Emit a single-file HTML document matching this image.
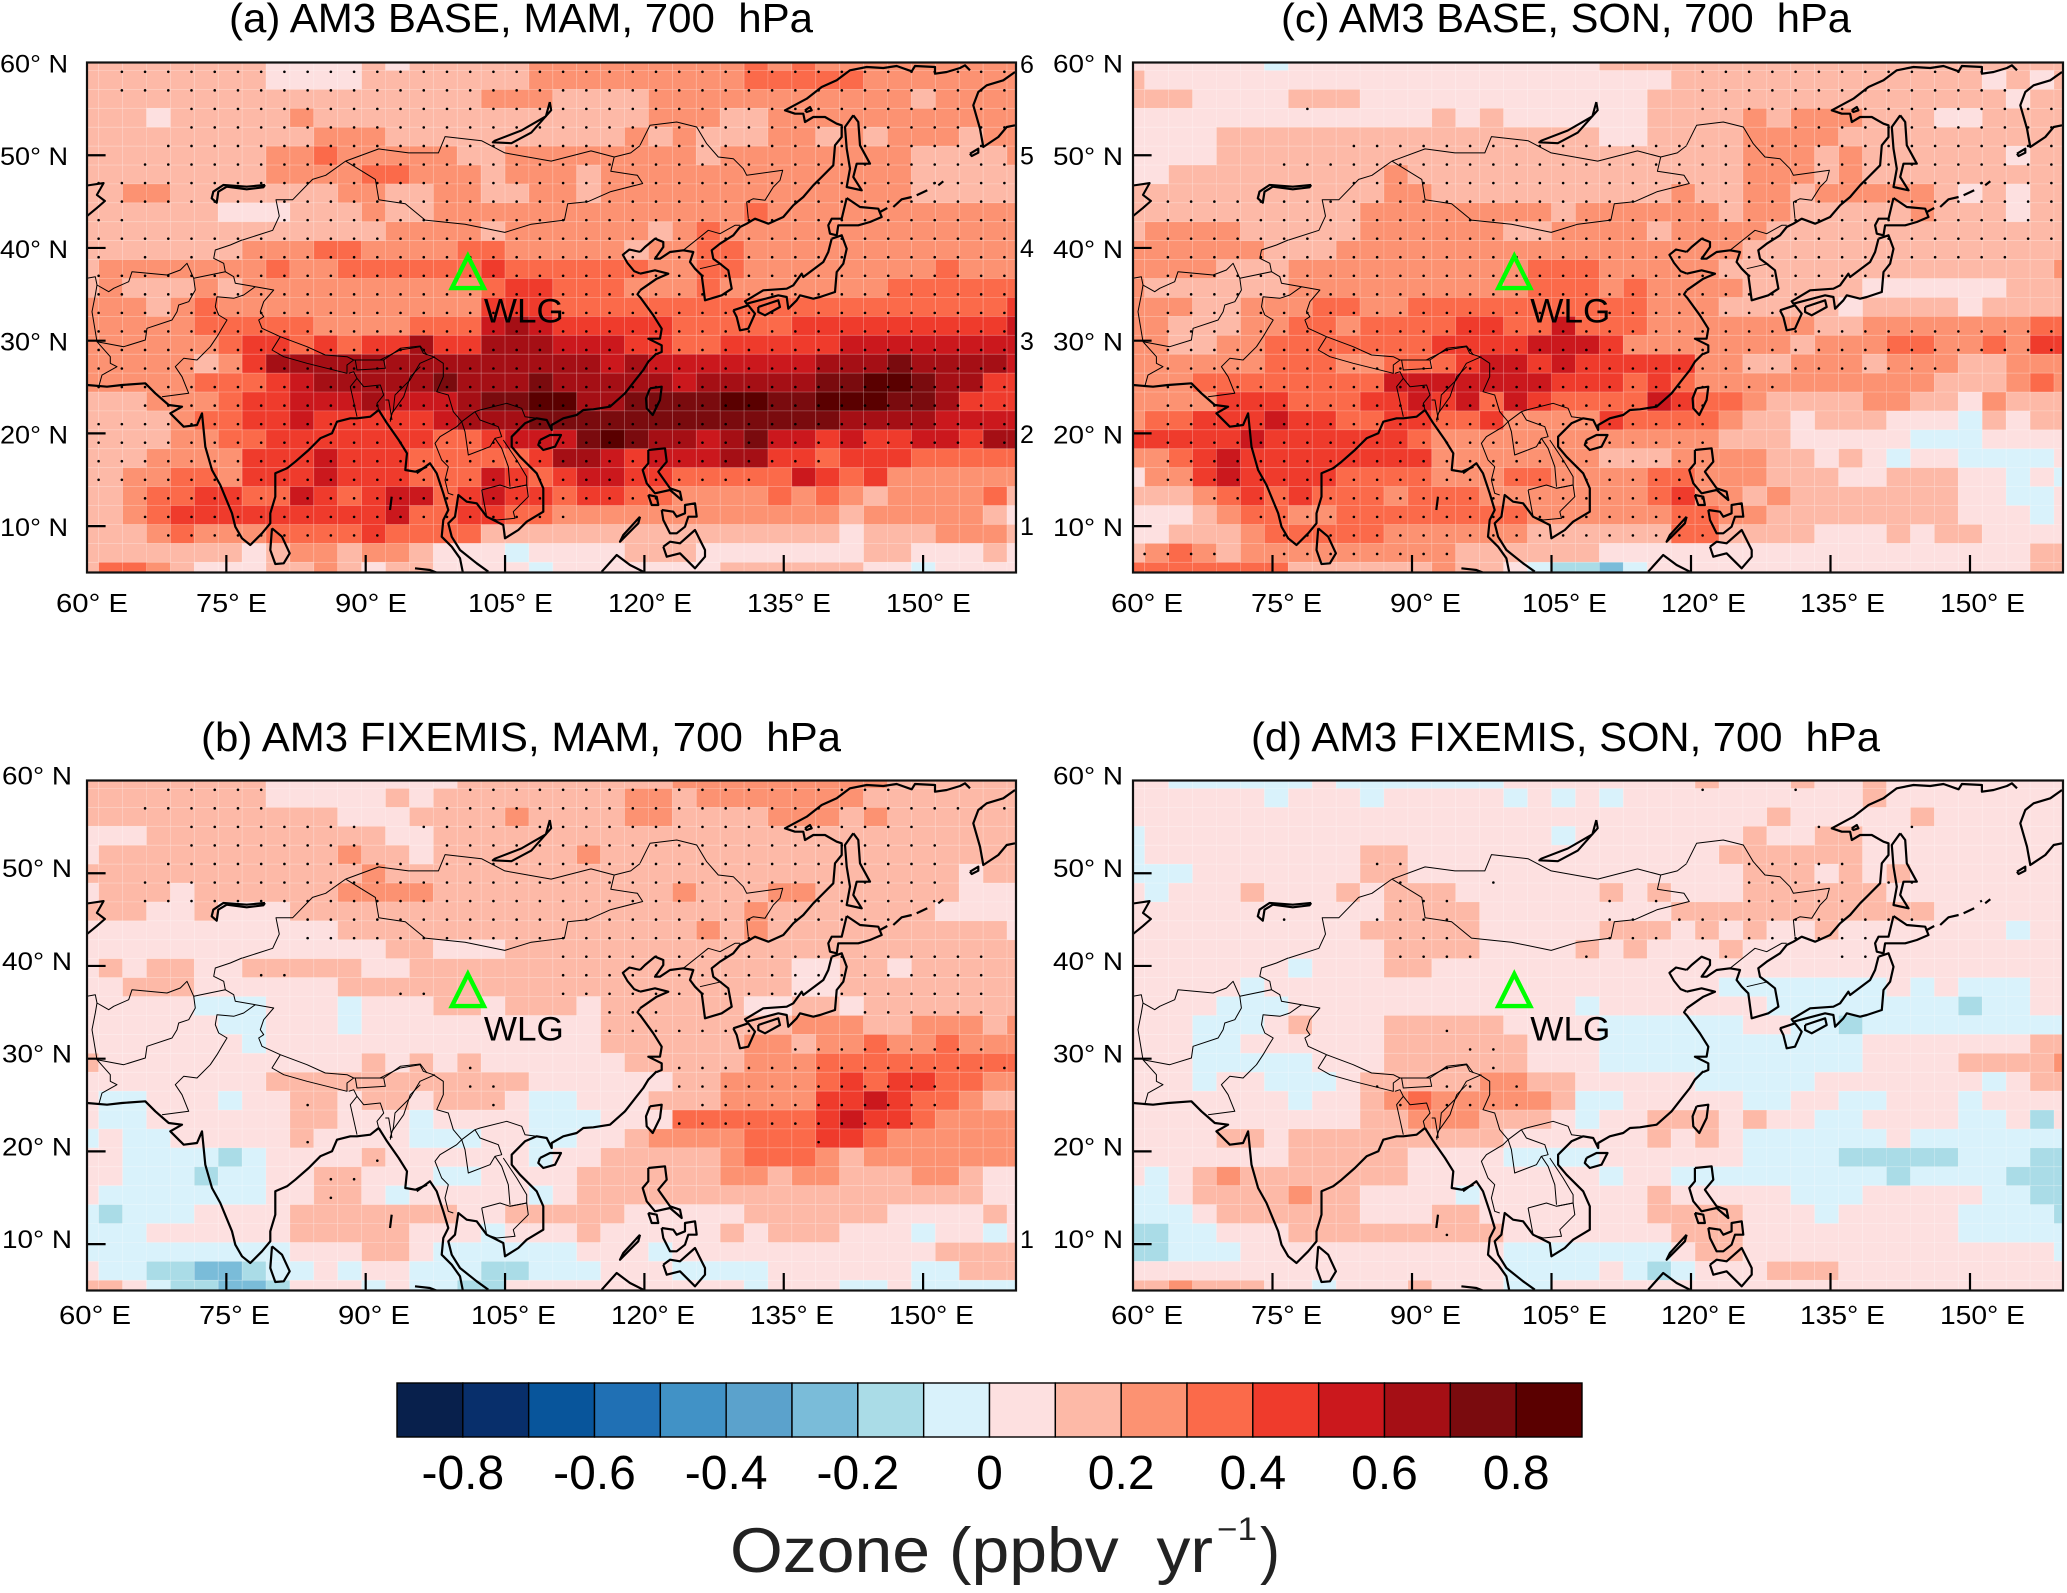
<!DOCTYPE html>
<html><head><meta charset="utf-8"><title>Ozone trends at 700 hPa</title>
<style>html,body{margin:0;padding:0;background:#fff}svg{display:block}text{font-family:"Liberation Sans",sans-serif;fill:#000;white-space:pre}</style>
</head><body>
<svg id="fig" xmlns="http://www.w3.org/2000/svg" width="2067" height="1593" viewBox="0 0 2067 1593"></svg>
<script>
// Trend values in tenths of ppbv/yr: n>0 is the bin (n-1)/10..n/10, n<0 is n/10..(n+1)/10.
const panelAValues=[
[2,2,2,2,2,2,2,2,1,1,1,1,2,1,2,2,2,2,2,3,3,3,3,3,3,3,3,3,4,3,4,3,3,3,3,3,3,3,3,3],
[2,2,2,2,2,2,2,2,1,1,1,1,2,2,2,2,2,2,2,3,3,3,3,3,3,3,3,3,4,4,4,4,4,3,3,3,3,3,3,3],
[2,2,2,2,2,2,2,2,2,2,2,2,2,2,2,2,2,3,3,3,2,2,2,2,3,3,3,3,3,3,3,3,3,3,3,2,3,3,3,3],
[2,2,2,1,2,2,2,2,2,3,2,2,2,2,2,2,2,2,2,2,2,2,2,2,3,3,3,2,2,3,3,3,3,3,3,3,3,3,3,3],
[2,2,2,2,2,2,2,2,2,2,3,3,3,2,2,2,2,2,2,2,2,2,2,3,2,3,2,2,2,3,3,2,3,2,3,3,3,2,3,3],
[2,2,2,2,2,2,2,2,3,3,4,3,3,3,3,3,2,2,3,3,3,3,3,3,3,3,2,3,3,3,3,3,3,3,3,2,2,2,2,3],
[2,2,2,2,2,2,2,2,3,3,3,3,4,4,3,3,3,2,3,3,3,2,3,3,3,3,3,3,3,3,3,3,3,3,3,2,2,2,2,2],
[2,2,3,3,2,2,2,2,2,2,2,3,3,2,2,3,3,2,2,3,3,2,3,3,3,3,3,3,3,3,3,3,3,3,3,2,2,2,2,2],
[2,2,2,2,2,2,1,1,1,2,2,2,3,2,2,3,3,3,3,3,3,3,3,3,3,3,3,3,4,3,3,3,3,3,3,3,3,3,3,3],
[2,2,2,2,2,2,2,2,2,2,2,2,2,3,3,3,3,2,3,3,3,3,3,3,2,3,4,3,3,3,3,3,3,3,3,3,3,3,3,3],
[2,2,2,2,2,2,2,3,3,3,4,4,3,3,3,3,4,4,3,3,3,3,3,2,3,3,4,4,3,3,3,3,3,3,3,3,3,3,3,3],
[2,3,3,3,3,3,3,3,4,3,3,4,4,4,4,4,4,5,4,4,4,4,4,4,3,3,4,4,3,3,3,3,3,3,3,3,4,3,3,3],
[2,3,2,2,2,3,2,3,3,3,3,3,3,3,3,3,3,4,5,5,4,4,4,3,3,3,4,3,3,3,3,3,3,3,4,4,4,4,4,4],
[3,3,3,2,3,4,3,3,3,3,3,3,3,3,3,3,3,5,5,5,4,4,4,4,4,4,4,4,4,4,4,4,4,4,4,4,4,4,4,5],
[3,3,3,3,3,4,4,4,4,4,3,3,3,3,4,4,4,6,7,6,5,5,5,5,5,4,4,4,4,4,5,5,5,5,5,5,5,5,5,6],
[3,3,3,3,3,3,4,5,5,4,5,4,5,5,7,5,5,7,7,7,6,6,6,5,5,4,4,5,5,5,5,5,6,6,6,6,6,6,6,6],
[3,3,3,3,3,2,3,5,7,7,7,7,7,7,7,7,7,7,7,7,7,7,6,7,6,6,6,6,6,6,6,7,7,7,8,7,7,7,7,6],
[3,3,3,3,3,4,4,4,5,6,7,7,7,7,7,8,7,7,7,8,7,7,7,7,7,6,7,7,7,7,7,8,8,9,9,8,7,7,5,5],
[2,2,2,3,3,3,4,5,5,6,6,6,7,6,6,6,7,8,8,9,9,7,7,8,8,8,8,9,9,8,8,9,9,9,8,8,7,5,5,5],
[2,2,2,2,3,4,4,5,5,6,5,5,5,5,5,6,7,7,7,8,8,8,8,8,8,8,8,8,8,8,8,8,7,7,7,7,6,6,6,6],
[2,2,2,2,3,3,4,4,5,5,5,5,5,5,5,4,4,5,6,6,6,8,9,8,7,7,6,7,8,6,6,5,6,5,5,6,6,5,7,7],
[2,2,2,3,3,3,3,5,5,5,6,5,5,5,4,4,4,4,4,5,7,7,6,5,6,6,6,7,7,5,5,4,5,5,5,4,4,4,4,4],
[2,2,3,3,4,4,3,5,5,5,6,5,5,5,4,4,4,6,5,4,5,6,6,5,5,4,4,4,4,4,6,5,4,5,3,3,3,3,3,3],
[2,2,3,4,4,5,5,4,4,6,5,4,5,6,6,4,5,6,5,5,4,5,5,4,4,3,3,3,3,4,3,4,3,2,3,3,3,3,4,2],
[2,2,3,4,5,5,5,5,5,5,5,5,5,6,4,4,5,5,4,4,3,3,3,3,3,3,3,3,3,3,3,3,2,3,3,3,3,3,2,1],
[2,2,2,3,4,3,3,3,4,4,4,4,5,4,4,4,4,2,2,2,2,2,2,2,2,2,2,2,2,2,2,2,1,2,2,2,3,3,3,2],
[2,2,2,2,2,2,2,1,2,3,3,2,3,3,2,1,1,1,-1,1,1,1,1,2,2,2,1,1,1,1,1,1,1,2,2,1,1,1,2,1],
[2,4,4,3,2,1,1,1,2,2,3,2,1,2,2,1,1,1,1,-1,1,1,1,1,1,1,1,2,2,2,2,2,2,1,1,-1,1,1,1,1]];
const panelBValues=[
[2,2,2,2,2,2,2,2,1,1,1,1,1,1,1,1,2,2,2,2,2,2,2,2,2,3,3,3,3,3,3,3,3,3,2,2,2,2,2,2],
[2,2,2,2,2,2,2,2,1,1,1,1,1,2,1,2,2,2,2,2,2,2,2,3,3,2,3,3,3,3,3,3,3,2,2,2,2,2,2,2],
[2,2,2,2,2,2,2,2,2,2,2,1,1,1,2,2,2,2,3,2,2,2,2,3,3,2,2,2,2,3,3,3,2,3,2,2,2,2,2,2],
[1,1,1,2,2,2,2,2,2,2,2,2,2,1,1,2,2,2,2,2,2,2,2,2,2,2,2,2,2,2,2,2,2,2,2,2,2,2,2,2],
[1,2,2,2,2,2,2,2,2,2,2,3,2,2,1,2,2,2,2,2,2,3,2,2,2,2,2,2,2,2,2,2,2,2,2,2,2,2,2,2],
[2,2,2,2,2,2,2,2,2,2,2,2,3,2,2,2,2,2,2,2,2,2,2,2,2,2,2,2,2,2,2,2,2,2,2,2,2,1,2,2],
[1,2,2,2,1,2,2,2,2,2,2,3,3,3,3,2,2,2,2,2,2,2,2,2,2,3,2,2,2,3,3,2,2,2,2,2,2,1,1,1],
[2,2,2,1,1,2,1,1,1,2,2,2,2,2,2,2,2,2,2,2,2,2,2,2,2,2,2,2,3,2,2,2,2,2,2,2,1,1,1,1],
[1,1,1,1,1,1,1,1,1,1,1,2,2,2,2,2,2,2,2,2,2,2,2,2,2,2,3,2,3,2,2,2,2,2,2,2,2,2,2,1],
[1,1,1,1,1,1,1,1,1,1,1,1,1,2,2,1,1,1,2,2,2,2,2,2,2,2,2,2,2,2,2,2,2,2,2,2,2,2,2,2],
[1,2,1,2,2,1,1,2,2,2,2,2,1,1,2,2,2,2,2,2,2,2,2,2,2,2,2,2,2,2,1,1,2,2,1,2,2,2,2,2],
[1,1,2,2,2,1,1,1,1,1,1,2,2,2,2,2,2,2,2,2,2,2,2,2,2,2,2,2,2,2,1,1,2,2,2,2,2,2,2,2],
[1,1,1,1,1,-1,-1,-1,1,1,1,-1,1,1,1,2,2,1,2,2,2,1,2,2,2,2,2,2,1,1,2,2,1,2,2,2,2,2,2,2],
[1,1,1,1,1,1,-1,-1,1,1,1,-1,1,1,1,1,1,1,1,1,1,1,2,2,2,2,2,2,2,2,3,3,3,2,2,3,3,3,2,3],
[1,1,1,1,1,1,1,-1,1,1,1,1,1,1,1,1,1,1,1,1,1,1,2,2,2,2,2,2,3,3,2,3,3,4,3,3,4,3,3,3],
[2,1,1,1,1,1,1,1,1,1,1,1,2,1,2,1,2,1,1,1,1,1,1,2,2,2,2,2,3,3,3,4,4,4,4,4,4,4,4,4],
[1,1,1,1,1,1,1,1,2,2,2,2,2,2,2,2,2,2,2,1,1,1,1,1,1,2,2,3,3,3,3,4,5,4,5,5,4,4,3,3],
[1,-1,-1,1,1,1,-1,1,1,2,2,1,2,2,1,2,2,2,1,-1,-1,1,1,1,2,2,2,3,3,3,3,5,5,6,5,4,4,3,2,2],
[1,-1,-1,1,1,1,1,1,1,2,2,1,1,1,-1,1,1,1,1,-1,-1,-1,1,1,1,4,4,4,4,4,4,5,6,5,5,4,3,3,3,3],
[-1,1,-1,-1,1,1,1,1,1,2,1,1,1,1,-1,-1,-1,1,1,-1,-1,1,1,2,3,3,3,3,4,4,4,5,5,4,3,3,3,3,3,3],
[1,1,-1,-1,-1,-1,-2,-1,1,1,1,1,2,1,1,1,1,1,1,-1,1,1,2,2,2,2,2,3,4,4,4,3,2,3,3,3,3,3,3,3],
[1,1,-1,-1,-1,-2,-1,-1,1,1,2,2,1,1,1,-1,-1,1,1,1,1,2,2,2,2,2,2,3,3,2,3,3,2,2,2,3,3,2,1,1],
[1,-1,-1,-1,-1,-1,-1,-1,1,1,2,2,1,-1,1,1,1,1,1,-1,1,2,2,2,2,2,2,2,2,2,2,2,2,2,2,2,2,2,1,1],
[-1,-2,-1,-1,-1,1,1,1,1,2,2,2,2,2,2,2,1,1,2,2,2,2,2,1,1,1,1,1,2,2,2,2,2,2,1,1,1,1,2,1],
[-1,-1,-1,1,1,1,1,1,1,2,2,2,2,2,1,1,1,-1,1,1,1,2,1,1,1,1,1,2,1,2,2,2,1,1,1,-1,1,1,-1,1],
[-1,-1,-1,-1,-1,-1,-1,-1,-1,1,1,1,2,2,1,-1,-1,-1,-1,-1,-1,1,1,1,-1,1,1,1,1,1,1,1,1,1,1,1,2,2,2,2],
[1,-1,-1,-2,-2,-3,-3,-2,-1,-1,1,-1,1,1,-1,-1,-1,-2,-2,-1,-1,-1,1,1,1,-1,-1,-1,-1,1,1,1,1,1,1,-1,-1,2,2,2],
[2,2,1,-1,-2,-2,-3,-3,-2,1,1,1,-1,1,-1,-1,-2,-2,1,1,1,1,1,1,1,1,1,1,-1,1,1,1,-1,-1,1,-1,-1,-1,-1,-1]];
const panelCValues=[
[1,1,1,1,1,1,-1,1,1,1,1,1,1,1,1,1,1,1,1,1,2,2,2,2,2,2,2,2,2,2,2,2,2,2,2,2,2,2,2,2],
[2,1,1,1,1,1,1,1,1,1,1,1,1,1,1,1,1,1,1,1,1,1,1,2,2,2,2,2,2,2,2,2,2,2,2,2,1,2,1,2],
[2,2,2,1,1,1,1,2,2,2,1,1,1,1,1,1,1,1,1,1,1,1,2,2,2,2,2,2,2,2,2,2,2,2,2,2,2,1,2,2],
[1,1,1,1,1,1,1,1,1,1,1,1,1,2,1,2,1,1,1,1,1,1,2,2,2,2,3,2,3,3,3,2,2,2,1,1,2,2,2,2],
[1,1,1,1,2,2,2,2,2,2,2,2,2,2,2,2,2,2,2,2,1,1,2,2,2,2,3,3,3,3,2,2,2,2,2,2,2,2,2,2],
[1,1,1,1,2,2,2,2,2,2,2,2,2,2,2,2,2,2,2,2,2,2,2,2,2,2,3,3,3,2,3,2,2,2,2,2,2,1,2,2],
[1,1,2,2,2,2,2,2,2,2,2,3,2,2,2,2,2,2,2,2,2,2,2,2,2,2,3,3,3,2,3,2,2,2,2,2,2,2,2,2],
[2,2,2,2,2,2,2,2,2,2,2,3,3,2,2,2,2,2,2,2,2,2,2,3,2,2,3,3,2,3,3,3,3,3,2,1,2,1,2,2],
[2,2,2,2,2,2,2,2,2,2,3,3,3,3,3,3,3,3,2,3,3,3,3,3,3,2,3,3,2,2,2,2,2,3,2,2,2,1,2,2],
[2,3,3,3,3,2,2,2,2,2,3,3,3,3,3,3,2,2,3,3,3,3,2,3,3,3,3,2,2,2,2,2,2,2,2,2,2,2,2,2],
[3,3,3,3,3,3,2,2,2,3,3,3,3,3,3,3,3,3,3,3,3,3,3,3,3,3,2,2,2,2,2,2,2,2,2,2,2,2,2,2],
[3,3,3,3,2,2,2,3,3,3,3,3,3,3,3,3,3,4,4,4,3,3,3,3,3,2,2,2,2,2,2,2,2,2,2,2,2,2,2,3],
[3,2,2,2,2,2,2,3,3,3,3,3,3,3,3,3,3,4,4,4,3,4,3,3,3,3,2,2,2,2,2,1,1,1,1,1,1,2,2,2],
[3,3,3,2,2,3,3,3,4,4,3,3,4,4,4,4,4,4,4,4,4,4,3,3,3,2,2,2,2,2,1,2,2,2,2,1,2,2,2,2],
[3,3,2,2,2,3,3,4,4,3,4,4,4,4,5,5,4,4,6,4,4,4,3,3,3,3,3,3,3,2,2,3,3,3,3,3,3,3,4,4],
[3,3,2,2,3,3,4,4,4,4,4,4,4,5,5,5,5,6,6,6,5,3,3,3,3,3,3,3,2,3,3,3,4,4,3,3,4,3,5,5],
[3,3,3,3,3,3,4,4,4,3,3,4,4,4,5,6,6,5,6,5,5,5,5,5,3,3,2,2,3,3,3,2,3,3,3,2,2,3,3,3],
[3,3,3,4,4,4,4,4,4,4,4,6,6,6,6,6,6,6,5,5,5,4,5,4,3,3,3,3,3,3,3,3,3,3,2,2,2,3,4,3],
[3,3,3,3,5,5,5,4,4,4,5,5,6,5,6,4,6,5,4,4,4,4,6,5,4,4,3,2,2,2,2,3,3,2,2,1,3,2,2,2],
[3,4,4,5,5,5,6,5,5,4,4,5,5,4,4,5,3,3,3,3,5,4,4,4,4,3,2,2,1,2,2,2,1,1,1,-1,2,1,2,2],
[5,5,5,5,5,6,5,5,5,5,5,5,4,3,3,3,3,3,3,3,3,3,3,3,3,2,2,2,1,1,1,1,1,-1,-1,-1,1,1,1,1],
[3,3,4,5,6,5,5,5,5,5,5,5,5,3,3,3,3,3,3,3,2,2,2,3,3,3,3,2,2,1,2,1,-1,1,1,-1,-1,-1,-1,1],
[1,3,3,5,6,5,5,5,5,4,4,4,4,3,3,3,4,4,3,3,3,3,4,4,3,3,3,2,2,2,1,1,2,2,2,1,1,-1,1,-1],
[2,2,2,3,4,5,4,5,4,4,4,3,4,4,4,3,3,3,3,3,3,3,4,5,3,3,2,3,2,2,2,2,2,2,2,1,1,-1,-1,1],
[1,1,1,2,3,4,4,3,3,4,4,4,4,4,4,4,4,3,3,3,3,3,3,4,4,3,3,2,2,2,2,2,2,2,2,1,1,1,-1,1],
[1,1,2,2,2,3,4,4,4,4,4,3,3,3,3,3,3,2,2,2,2,2,2,4,4,2,2,2,2,1,1,1,2,1,2,2,1,1,1,1],
[2,3,4,3,2,3,3,3,3,3,3,3,3,3,2,2,2,2,2,2,1,1,1,1,1,1,1,1,1,1,1,1,1,1,1,1,1,1,2,2],
[4,4,4,4,4,4,4,2,2,2,2,2,2,3,2,2,1,-1,-2,-2,-3,-1,1,1,1,1,1,1,1,1,1,1,1,1,1,1,1,1,2,2]];
const panelDValues=[
[1,1,-1,-1,-1,-1,-1,-1,1,-1,-1,-1,-1,-1,-1,-1,1,1,1,1,1,1,1,1,2,1,1,1,2,1,1,2,1,1,1,1,1,1,1,1],
[1,1,1,1,1,1,-1,1,1,1,-1,1,1,1,1,1,-1,1,-1,1,-1,1,1,1,1,1,1,1,1,1,1,2,1,1,1,1,1,1,1,1],
[1,1,1,1,1,1,1,1,1,1,1,1,1,1,1,1,1,1,1,1,1,1,1,1,1,1,1,2,1,1,1,1,1,2,1,1,1,1,1,1],
[-1,1,1,1,1,1,1,1,1,1,1,1,1,1,1,1,1,1,-1,1,1,1,1,1,1,1,2,1,1,2,2,1,1,1,1,1,1,1,1,1],
[-1,1,1,1,1,1,1,1,1,1,2,2,1,1,1,1,1,1,1,1,1,1,1,1,1,2,2,2,2,2,2,1,1,1,1,1,1,1,1,1],
[-1,-1,-1,1,1,1,1,1,1,1,2,2,1,1,1,1,1,1,1,1,1,1,1,1,1,1,2,2,2,1,2,1,2,1,1,1,1,1,1,1],
[1,-1,1,1,1,2,1,1,1,2,1,2,2,2,1,1,1,1,1,1,2,1,2,1,1,1,2,2,2,2,2,2,1,1,1,1,1,1,1,1],
[1,1,1,1,1,1,1,1,1,1,1,2,2,2,2,1,1,1,1,1,1,1,1,2,2,2,2,2,2,2,2,2,2,2,1,1,1,1,1,1],
[1,1,1,1,1,1,1,1,1,1,2,2,2,2,2,1,1,1,1,1,2,2,2,1,2,1,2,1,1,2,1,1,1,1,1,1,1,-1,1,1],
[1,1,1,1,1,1,1,1,1,1,1,2,2,2,2,1,1,1,1,2,1,2,1,1,1,2,1,1,1,1,1,1,1,1,1,1,1,1,1,1],
[1,1,1,1,1,1,1,-1,1,1,1,2,2,1,1,1,1,1,1,1,1,1,1,1,1,1,1,1,1,1,1,1,1,1,1,1,1,1,1,1],
[1,1,1,1,1,-1,1,1,1,1,1,1,1,1,1,1,1,1,1,1,1,1,1,1,1,-1,-1,-1,-1,-1,-1,-1,1,-1,1,-1,-1,-1,1,1],
[1,1,1,1,-1,-1,-1,1,1,1,1,1,1,1,1,1,1,1,1,-1,1,1,1,1,1,1,1,-1,-1,-1,-1,-1,-1,-1,-1,-2,-1,-1,1,1],
[1,1,1,-1,-1,-1,1,2,1,1,1,2,2,2,2,2,1,1,1,1,-1,-1,-1,-1,-1,-1,1,1,-1,-1,-2,-1,-1,-1,-1,-1,-1,-1,-1,-1],
[1,1,1,-1,-1,1,1,1,1,1,1,2,2,2,2,2,2,1,1,1,-1,-1,-1,-1,-1,-1,-1,-1,-1,-1,-1,1,1,1,1,1,1,1,2,2],
[1,1,1,-1,-1,-1,-1,-1,1,1,1,2,2,2,2,2,2,1,1,1,-1,-1,-1,-1,-1,-1,-1,-1,-1,-1,-1,1,1,1,1,2,2,2,2,3],
[1,1,1,-1,1,1,-1,-1,-1,1,2,2,2,2,2,3,3,2,2,1,1,1,1,1,-1,-1,-1,-1,-1,1,1,1,1,1,1,1,-1,1,2,2],
[1,1,1,1,1,1,1,-1,1,1,2,3,4,3,3,3,3,3,2,-1,-1,1,1,1,1,1,-1,-1,1,1,-1,-1,1,1,1,-1,1,1,1,1],
[1,1,1,1,1,1,1,1,1,1,2,2,3,3,3,2,2,2,1,-1,1,1,2,2,2,1,2,1,1,-1,-1,1,1,1,1,-1,-1,1,-2,1],
[1,1,1,1,2,2,1,2,2,2,2,2,2,2,2,2,1,1,1,1,1,1,2,1,2,1,-1,-1,-1,-1,-1,-1,1,-1,-1,-1,-1,-1,-1,-1],
[1,1,1,1,1,1,1,2,2,2,2,2,1,1,1,1,-1,-1,-1,-1,1,1,1,1,1,1,-1,-1,-1,-1,-2,-2,-2,-2,-2,-1,-1,-1,-2,-2],
[1,-1,1,2,3,2,2,2,2,2,2,2,1,1,1,1,1,1,1,1,-1,1,1,-1,-1,-1,-1,-1,-1,-1,-1,-1,-2,-1,-1,-1,-1,-2,-2,-2],
[-1,-1,1,2,2,2,2,3,2,2,1,1,1,1,-1,1,1,1,1,1,1,1,2,1,1,1,1,1,-1,-1,-1,1,1,1,1,1,-1,-1,-2,-2],
[-1,-1,-1,1,2,2,2,2,2,2,1,1,1,2,2,1,1,1,1,1,1,1,2,2,2,2,1,1,1,-1,1,1,1,1,1,-1,-1,-1,-1,-2],
[-2,-2,-1,-1,1,1,1,2,2,2,2,2,2,2,2,2,1,1,1,1,1,1,1,2,2,2,1,1,1,1,1,1,1,1,1,-1,-1,-1,-1,-1],
[-2,-2,-1,-1,-1,1,1,1,1,1,1,1,1,1,1,1,-1,-1,-1,-1,-1,-1,-1,1,2,2,1,1,1,1,1,1,1,1,1,1,1,1,1,-1],
[1,1,1,1,1,1,1,1,1,1,1,1,1,1,1,1,-1,-1,-1,-1,1,-1,-2,-1,1,1,1,2,2,2,1,1,1,1,1,1,1,1,1,1],
[2,2,3,2,2,2,1,1,-1,1,1,1,2,1,1,1,-1,-1,1,1,1,1,1,1,1,1,1,1,1,1,1,1,1,1,1,1,1,1,1,1]];
// Significance: one list per latitude (59N..7N) of [first,last] longitude indices.
const stippleA=[[[1,39]],[[1,39]],[[4,39]],[[4,39]],[[3,39]],[[2,39]],[[0,39]],[[1,39]],[[0,1],[8,39]],[[0,39]],[[0,0],[2,2],[4,4],[6,39]],[[0,39]],[[0,39]],[[0,39]],[[0,39]],[[0,39]],[[0,39]],[[0,39]],[[2,39]],[[0,39]],[[0,39]],[[0,31]],[[0,28]],[[2,24]],[[2,20]],[[3,12]],[]];
const stippleB=[[[3,7],[16,34]],[[2,7],[15,39]],[[4,11],[14,35]],[[4,11],[15,36]],[[3,13],[15,36]],[[2,36]],[[2,35]],[[9,34]],[[9,28]],[[20,38]],[[7,8],[20,38]],[[13,14],[20,38]],[[22,24],[33,38]],[[22,28]],[[30,38]],[[16,16],[25,39]],[[16,17],[25,36]],[[9,9],[17,17],[26,36]],[[25,35]],[[9,9],[31,31]],[[12,12]],[[10,11]],[[10,10]],[],[],[],[]];
const stippleC=[[[24,36]],[[24,37]],[[7,7],[24,39]],[[28,39]],[[9,39]],[[6,39]],[[9,39]],[[1,39]],[[1,39]],[[1,39]],[[1,37]],[[1,32]],[[1,28]],[[1,27]],[[1,39]],[[1,39]],[[1,34]],[[1,27]],[[1,24]],[[1,24]],[[1,24]],[[1,24]],[[1,24]],[[3,24]],[[5,24]],[[6,24]],[[0,3],[6,13]]];
const stippleD=[[[24,24],[28,28]],[],[[29,29],[33,33]],[],[[10,11],[26,30]],[[11,11],[15,15],[26,30],[32,33]],[[11,13],[20,20],[22,22],[26,30]],[[6,6],[10,13],[20,21],[23,33]],[[11,13],[20,22],[24,24],[26,31]],[[11,14],[19,19],[25,25],[30,31]],[],[],[],[[13,13]],[[14,15]],[[13,13],[15,15]],[[10,10],[13,14],[16,16]],[[11,11],[13,16]],[],[],[],[],[],[],[[13,13]],[],[]];
const colorLevels=['#08204c','#082f6b','#08559b','#2070b4','#4192c6','#5ba2cc','#7abcd9','#aadce7','#d9f2fb','#fde0e0','#fdb9a7','#fc9272','#fb6a4a','#ef3b2c','#cb181d','#a50f15','#7a0b0e','#5a0000'];
const colorbarTicks=[-0.8,-0.6,-0.4,-0.2,0,0.2,0.4,0.6,0.8];
const lonTicks=[60,75,90,105,120,135,150];
const latTicks=[60,50,40,30,20,10];
const stationLon=[101];
const stationLat=[35.78];

// Outline geography traced in a 130..1531 × 153..1405 map frame.
const frameCoast=[
[[828,250],[822,285],[785,320],[745,345],[742,349],[770,351],[800,325],[830,270],[828,250]],
[[130,455],[155,449],[145,478],[157,493],[145,510],[130,530]],
[[964,618],[948,612],[938,625],[945,645],[955,665],[964,671]],
[[964,713],[960,722],[964,729]]];
const frameBorders=[
[[520,395],[570,365],[615,375],[660,375],[670,335],[725,345],[760,375],[830,395],[890,370],[925,385],[920,420],[960,430],[968,450],[920,470],[885,495],[855,500],[850,540],[800,550],[760,570],[700,550],[640,540],[610,500],[570,490],[565,440],[520,395]],
[[520,395],[490,430],[470,440],[440,490],[415,490],[420,530],[410,565],[364,589]],
[[925,385],[950,375],[964,357]]];
// Finer outlines traced at 3x scale, each group with its panel-relative origin.
const tracedCoast=[
{ox:553,oy:-0.5,lines:[
[[990,25],[975,10],[960,18],[920,30],[885,35],[885,15],[825,12],[815,28],[770,12],[730,18],[680,15],[630,25],[590,55],[545,75],[500,110],[435,145],[465,155],[490,155],[495,180],[520,165],[555,165],[590,185],[605,190],[605,225],[585,250],[580,310],[545,345],[520,370],[490,405],[460,430],[430,465],[385,485],[345,470],[320,485],[300,495],[280,520],[240,545],[215,565],[220,590],[240,605],[265,625],[275,680],[245,700],[195,715],[185,640],[165,620],[150,600],[160,570],[130,565],[90,570],[60,590],[45,590],[70,555],[70,540],[45,530],[15,555],[0,570]],
[[0,635],[45,625],[85,635],[50,650],[0,685]],
[[0,705],[40,760],[65,800],[60,830],[25,830],[65,850],[65,870],[50,876]],
[[640,160],[655,180],[660,250],[690,305],[650,305],[640,345],[665,385],[620,375],[630,320],[620,260],[615,195],[640,160]],
[[495,145],[510,135],[515,145],[500,150],[495,145]],
[[620,408],[605,470],[575,470],[565,490],[570,515],[590,520],[595,490],[655,490],[690,480],[725,465],[715,440],[660,435],[620,408]],
[[575,530],[605,520],[620,560],[610,605],[590,630],[585,690],[540,705],[520,710],[480,700],[470,715],[445,740],[440,705],[415,700],[320,725],[315,718],[370,685],[440,680],[460,670],[485,635],[490,645],[550,600],[565,570],[575,530]],
[[280,745],[325,730],[345,755],[325,800],[300,805],[290,765],[280,745]],
[[355,735],[415,715],[420,735],[375,760],[355,750],[355,735]],
[[1125,30],[1090,55],[1040,70],[1015,90],[1000,130],[1020,200],[1030,255],[1075,225],[1100,195],[1125,190]],
[[990,275],[1015,260],[1015,272],[995,282],[990,275]],
[[720,450],[742,438]],[[760,435],[785,412],[815,405]],[[830,400],[862,385]],[[880,365],[885,362]],[[895,370],[910,358]]]},
{ox:293,oy:257.5,lines:[
[[830,100],[805,125],[790,150],[770,175],[735,220],[690,260],[640,268],[610,270],[590,285],[550,295],[515,315],[515,330],[500,300],[470,295],[435,310],[395,350],[395,380],[420,410],[470,460],[490,505],[490,575],[440,605],[415,630],[375,655],[370,615],[320,590],[290,550],[260,545],[235,525],[225,590],[205,610],[215,650],[240,690],[290,730],[325,755]],
[[110,460],[150,430],[170,460],[190,520],[205,570],[190,600],[185,650],[215,680],[240,715],[248,755]],
[[480,360],[510,345],[543,345],[525,380],[490,390],[475,375],[480,360]],
[[810,205],[845,200],[840,240],[818,285],[800,265],[798,235],[810,205]],
[[805,390],[855,385],[860,425],[835,455],[870,505],[900,515],[905,540],[870,510],[825,520],[800,490],[788,450],[805,430],[805,390]],
[[805,525],[830,530],[835,555],[815,555],[805,525]],
[[845,570],[880,575],[890,590],[915,580],[915,555],[945,550],[950,590],[925,590],[915,620],[890,640],[870,640],[850,600],[845,570]],
[[850,680],[870,665],[900,670],[945,630],[975,690],[975,710],[945,745],[900,700],[860,710],[850,680]],
[[780,590],[775,610],[720,665],[730,645],[780,590]],
[[665,755],[710,705],[750,735],[790,755]],
[[105,745],[150,750],[175,760]],
[[35,530],[30,570]]]},
{ox:0,oy:177.5,lines:[
[[875,510],[850,530],[810,535],[790,535],[750,545],[735,580],[700,595],[665,630],[625,665],[600,685],[565,700],[565,770],[550,820],[550,850],[525,880],[490,915],[465,895],[445,860],[435,820],[400,735],[375,690],[355,620],[345,520],[330,555],[290,560],[250,520],[285,500],[245,495],[205,460],[175,430],[105,435],[60,440],[0,435]],
[[875,510],[900,550],[935,600],[960,640],[955,690],[985,695],[1020,680]],
[[555,865],[585,890],[608,940],[590,970],[565,972],[550,930],[555,865]]]},
{ox:-27,oy:-12.5,lines:[
[[615,405],[560,410],[490,405],[460,425],[455,445],[470,458],[475,425],[500,410],[560,418],[610,412],[615,405]]]}];
const tracedBorders=[
{ox:553,oy:-0.5,lines:[
[[0,250],[25,200],[30,190],[110,180],[170,195],[200,245],[235,285],[280,290],[310,320],[320,340],[428,325],[420,355],[400,375],[375,415],[340,410],[320,420],[325,470]],
[[130,565],[180,525],[205,505],[240,515],[285,490],[300,490]],
[[180,620],[245,605]]]},
{ox:293,oy:257.5,lines:[
[[0,120],[60,90],[120,80],[130,100],[160,110],[190,130],[190,170],[170,215],[205,225],[220,275],[245,305],[285,275],[300,270],[380,250],[425,265],[435,290],[470,295]],
[[165,110],[120,130],[90,180],[45,225],[40,270],[30,300]],
[[285,275],[300,300],[355,320],[365,350],[345,355],[365,385],[385,440],[390,500]],
[[245,305],[255,335],[265,405],[330,380],[345,355]],
[[245,305],[230,320],[180,350],[165,370],[185,420],[205,440],[195,480],[205,520],[220,525]],
[[370,360],[410,420],[440,470],[440,495],[390,505]],
[[305,510],[360,495],[390,505],[440,495],[445,530],[400,575],[405,595],[350,600],[320,590],[305,510]]]},
{ox:0,oy:177.5,lines:[
[[465,0],[430,15],[385,30],[380,55],[410,70],[415,95],[320,115]],
[[415,95],[440,110],[445,130],[505,140],[560,150],[530,185],[520,215],[530,230],[515,240],[525,265],[580,290],[660,320],[715,345],[780,350],[800,360],[890,360],[940,325],[1000,318],[1020,345]],
[[505,140],[470,165],[440,175],[390,170],[385,200],[395,225],[420,240],[405,265],[390,290],[370,320],[330,360],[290,355],[265,380],[285,410],[305,460],[225,470]],
[[580,290],[555,330],[590,350],[660,370],[780,400],[780,375],[800,360]],
[[805,360],[810,390],[895,385],[890,360]],
[[785,400],[800,395],[810,415],[790,440],[810,530]],
[[810,415],[830,440],[880,435],[890,465],[870,490],[875,510]],
[[1000,380],[970,410],[950,470],[915,520],[910,545]],
[[895,480],[905,480],[915,540]],
[[320,115],[300,70],[280,90],[240,105],[135,95],[125,125],[80,145],[65,155],[30,135],[25,110],[0,115]],
[[320,115],[325,150],[305,185],[275,195],[270,215],[255,240],[180,265],[175,300],[110,320],[30,305],[15,215],[25,165],[30,135]],
[[30,305],[70,350],[70,370],[90,380],[45,405],[35,440]]]}];

const svgNS='http://www.w3.org/2000/svg';
const fig=document.getElementById('fig');
function make(tag,attrs,parent){const el=document.createElementNS(svgNS,tag);for(const k in attrs)el.setAttribute(k,attrs[k]);(parent||fig).appendChild(el);return el;}
function label(str,x,y,size,len,parent){const t=make('text',{x:x,y:y,'font-size':size},parent);if(len){t.setAttribute('textLength',len);t.setAttribute('lengthAdjust','spacingAndGlyphs');}t.textContent=str;return t;}

const panels=[
 {id:'a',title:'(a) AM3 BASE, MAM, 700  hPa',values:panelAValues,dots:stippleA,left:87,top:62.5,w:929,titleX:229,titleLen:584,titleY:32,latX:0,latDy:1,lonDx:0,lonY:612,lonOff:[56,196,335,468,608,747,886],lonW:[72,71,72,85,84,84,85]},
 {id:'b',title:'(b) AM3 FIXEMIS, MAM, 700  hPa',values:panelBValues,dots:stippleB,left:87,top:780.5,w:929,titleX:201,titleLen:640,titleY:751,latX:2,latDy:-5,lonDx:3,lonY:1324,lonOff:[56,196,335,468,608,747,886],lonW:[72,71,72,85,84,84,85]},
 {id:'c',title:'(c) AM3 BASE, SON, 700  hPa',values:panelCValues,dots:stippleC,left:1133,top:62.5,w:930,titleX:1281,titleLen:570,titleY:32,latX:1053,latDy:1,lonDx:0,lonY:612,lonOff:[1111,1251,1390,1522,1661,1800,1940],lonW:[72,71,71,85,85,85,85]},
 {id:'d',title:'(d) AM3 FIXEMIS, SON, 700  hPa',values:panelDValues,dots:stippleD,left:1133,top:780.5,w:930,titleX:1251,titleLen:629,titleY:751,latX:1053,latDy:-5,lonDx:0,lonY:1324,lonOff:[1111,1251,1390,1522,1661,1800,1940],lonW:[72,71,71,85,85,85,85]}];
const plotH=510,lonMin=60,lonMax=160,latMin=5,latMax=60;
const gridLon0=61.26,gridLonStep=2.573,gridLat0=59.14,gridLatStep=2.04;
function colorFor(v){const i=v>0?8+v:9+v;return colorLevels[Math.max(0,Math.min(17,i))];}

panels.forEach(function(p){
 const xs=function(lon){return p.left+(lon-lonMin)/(lonMax-lonMin)*p.w;};
 const ys=function(lat){return p.top+(latMax-lat)/(latMax-latMin)*plotH;};
 const mapX=function(X){return p.left+(X-130)/1401*p.w;};
 const mapY=function(Y){return p.top+(Y-153)/1252*plotH;};
 const g=make('g',{});
 
 
 const clip=make('clipPath',{id:'clip-'+p.id},g);
 make('rect',{x:p.left,y:p.top,width:p.w,height:plotH},clip);
 const title=label(p.title,p.titleX,p.titleY,41,p.titleLen,g);
 
 
 const cells=make('g',{'clip-path':'url(#clip-'+p.id+')'},g);
 
 
 p.values.forEach(function(row,r){
  row.forEach(function(v,c){
   const lonA=c===0?lonMin:gridLon0+(c-1)*gridLonStep;
   const lonB=c===row.length-1?lonMax:gridLon0+c*gridLonStep;
   const latA=r===0?latMax:gridLat0-(r-1)*gridLatStep;
   const latB=r===p.values.length-1?latMin:gridLat0-r*gridLatStep;
   const cell=make('rect',{x:xs(lonA),y:ys(latA),width:xs(lonB)-xs(lonA),height:ys(latB)-ys(latA),fill:colorFor(v),stroke:'#fff','stroke-opacity':'0.18','stroke-width':'0.8'},cells);
   
   
  });
 });
 const dots=make('g',{'clip-path':'url(#clip-'+p.id+')'},g);
 
 
 p.dots.forEach(function(ranges,r){
  ranges.forEach(function(span){
   for(let k=span[0];k<=span[1];k++){
    make('circle',{cx:xs(61.25+2.5*k),cy:ys(59-2*r),r:1.3,fill:'#000'},dots);
   }
  });
 });
 const map=make('g',{'clip-path':'url(#clip-'+p.id+')',fill:'none',stroke:'#000','stroke-linejoin':'round'},g);
 
 
 const frameD=function(line){return line.map(function(pt,i){return (i?'L':'M')+mapX(pt[0]).toFixed(1)+' '+mapY(pt[1]).toFixed(1);}).join('');};
 const tracedD=function(line,grp){return line.map(function(pt,i){return (i?'L':'M')+(p.left+(grp.ox+pt[0]/3)*p.w/929).toFixed(1)+' '+(p.top+grp.oy+pt[1]/3).toFixed(1);}).join('');};
 frameBorders.forEach(function(l){make('path',{d:frameD(l),'stroke-width':'1'},map);});
 tracedBorders.forEach(function(grp){grp.lines.forEach(function(l){make('path',{d:tracedD(l,grp),'stroke-width':'1'},map);});});
 frameCoast.forEach(function(l){make('path',{d:frameD(l),'stroke-width':'2.1'},map);});
 tracedCoast.forEach(function(grp){grp.lines.forEach(function(l){make('path',{d:tracedD(l,grp),'stroke-width':'2.2'},map);});});
 stationLon.forEach(function(lon,i){
  const sx=xs(lon),sy=ys(stationLat[i]);
  const tri=make('path',{d:'M'+sx+' '+(sy-31)+'L'+(sx+16)+' '+(sy+1)+'L'+(sx-16)+' '+(sy+1)+'Z',fill:'none',stroke:'#00ff00','stroke-width':'4.4'},g);
  
  
  const wl=label('WLG',sx+16,sy+35.5,34,80,g);
  
  
 });
 latTicks.forEach(function(lat){
  if(lat<60){
   const tk=make('line',{x1:p.left,x2:p.left+18.6,y1:ys(lat),y2:ys(lat),stroke:'#000','stroke-width':'2.2'},g);
   
   
  }
  const lb=label(lat+'° N',p.latX,ys(lat)+p.latDy+9,25,p.latX===0?68:70,g);
  
  
 });
 lonTicks.forEach(function(lon,i){
  if(lon>60){
   const tk=make('line',{x1:xs(lon),x2:xs(lon),y1:p.top+plotH,y2:p.top+plotH-17.5,stroke:'#000','stroke-width':'2.2'},g);
   
   
  }
  const lb=label(lon+'° E',p.lonOff[i]+p.lonDx,p.lonY,25.5,p.lonW[i],g);
  
  
 });
 const frame=make('rect',{x:p.left,y:p.top,width:p.w,height:plotH,fill:'none',stroke:'#111','stroke-width':'2.2'},g);
 
 
});

// Clipped label fragments at the right edge of the left-hand panels
const strayDigits=['6','5','4','3','2','1'];
const strayY=[73,164.5,257,350,443,535];
strayDigits.forEach(function(d,i){
 const s=label(d,1020,strayY[i],25,0);
 
 
});
const strayB=label('1',1020,1248,25,0);



// Colorbar
const cbLeft=397,cbRight=1582,cbTop=1383,cbBottom=1437;
const cbX=function(v){return cbLeft+(v+0.9)/1.8*(cbRight-cbLeft);};
const cb=make('g',{});


colorLevels.forEach(function(col,i){
 const box=make('rect',{x:cbX(-0.9+0.1*i),y:cbTop,width:cbX(-0.8)-cbX(-0.9),height:cbBottom-cbTop,fill:col,stroke:'#000','stroke-width':'1.4'},cb);
 
 
});
colorbarTicks.forEach(function(v){
 const t=label(String(v),cbX(v),1489,48,0,cb);
 t.setAttribute('text-anchor','middle');
 
 
});
const axisTitle=label('Ozone (ppbv  yr',730,1572,63,483);
axisTitle.setAttribute('style','fill:#222');


const sup=label('−1',1217,1540,32,40);
sup.setAttribute('style','fill:#222');


const closeP=label(')',1260,1572,63,20);
closeP.setAttribute('style','fill:#222');


</script>
</body></html>
